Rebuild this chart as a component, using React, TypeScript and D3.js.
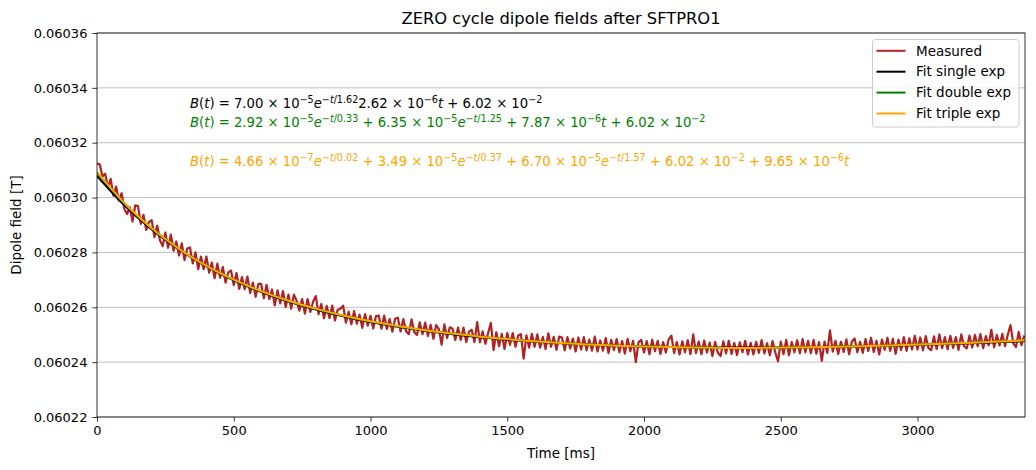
import * as React from 'react';
import * as d3 from 'd3';

// measured field, one sample every 10 ms, in units of 1e-7 T
const measuredE7 = [
  603124, 603121, 603077, 603087, 603035, 603068, 603007, 603040, 602989, 603016,
  602958, 602940, 602964, 602913, 602972, 602969, 602904, 602937, 602882, 602911,
  602918, 602856, 602898, 602845, 602823, 602872, 602817, 602865, 602806, 602840,
  602789, 602833, 602772, 602814, 602818, 602760, 602800, 602739, 602785, 602739,
  602785, 602726, 602763, 602706, 602759, 602708, 602747, 602690, 602727, 602734,
  602681, 602725, 602667, 602710, 602666, 602712, 602652, 602690, 602638, 602685,
  602685, 602633, 602682, 602630, 602665, 602607, 602662, 602614, 602659, 602601,
  602646, 602595, 602646, 602623, 602588, 602630, 602577, 602630, 602583, 602620,
  602641, 602575, 602612, 602560, 602605, 602561, 602606, 602552, 602591, 602595,
  602606, 602544, 602584, 602538, 602586, 602540, 602573, 602525, 602575, 602533,
  602569, 602523, 602568, 602570, 602522, 602570, 602521, 602557, 602511, 602558,
  602562, 602512, 602557, 602513, 602502, 602556, 602510, 602499, 602545, 602502,
  602544, 602495, 602536, 602485, 602535, 602520, 602464, 602538, 602488, 602527,
  602522, 602481, 602526, 602481, 602526, 602473, 602511, 602518, 602473, 602546,
  602473, 602512, 602467, 602506, 602543, 602444, 602509, 602458, 602503, 602448,
  602506, 602463, 602506, 602456, 602497, 602502, 602413, 602498, 602453, 602503,
  602456, 602501, 602453, 602492, 602448, 602505, 602456, 602492, 602445, 602493,
  602490, 602443, 602491, 602450, 602486, 602439, 602490, 602446, 602491, 602443,
  602482, 602442, 602493, 602439, 602479, 602442, 602488, 602433, 602481, 602444,
  602484, 602436, 602477, 602431, 602485, 602440, 602478, 602400, 602473, 602481,
  602435, 602477, 602429, 602482, 602440, 602478, 602430, 602473, 602435, 602483,
  602497, 602433, 602473, 602428, 602476, 602436, 602480, 602429, 602501, 602433,
  602475, 602429, 602479, 602435, 602471, 602422, 602474, 602434, 602422, 602476,
  602432, 602478, 602430, 602470, 602426, 602472, 602436, 602478, 602428, 602470,
  602428, 602474, 602434, 602480, 602432, 602469, 602425, 602477, 602435, 602403,
  602475, 602429, 602481, 602425, 602473, 602436, 602480, 602432, 602484, 602436,
  602478, 602432, 602481, 602431, 602473, 602405, 602475, 602434, 602516, 602438,
  602478, 602430, 602474, 602437, 602483, 602429, 602475, 602486, 602436, 602474,
  602434, 602484, 602441, 602489, 602437, 602478, 602428, 602482, 602445, 602489,
  602441, 602485, 602430, 602482, 602444, 602491, 602441, 602487, 602446, 602496,
  602446, 602490, 602443, 602495, 602451, 602444, 602494, 602448, 602501, 602451,
  602491, 602447, 602496, 602452, 602491, 602445, 602501, 602458, 602450, 602497,
  602453, 602499, 602458, 602502, 602451, 602495, 602461, 602518, 602454, 602499,
  602461, 602503, 602458, 602500, 602535, 602469, 602455, 602510, 602462, 602497,
];
const sampleStepMs = 10;

// fit curves, one point every 100 ms, in units of 1e-7 T
const fitTimes = [
  0, 100, 200, 300, 400, 500, 600, 700, 800, 900, 1000, 1100, 1200, 1300, 1400, 1500, 1600,
  1700, 1800, 1900, 2000, 2100, 2200, 2300, 2400, 2500, 2600, 2700, 2800, 2900, 3000, 3100,
  3200, 3300, 3400,
];
const fitSingleE7 = [
  603079, 602972, 602884, 602811, 602749, 602698, 602656, 602621, 602592, 602567, 602546,
  602529, 602514, 602502, 602491, 602482, 602475, 602469, 602464, 602460, 602457, 602455,
  602454, 602453, 602453, 602454, 602455, 602456, 602458, 602460, 602463, 602466, 602469,
  602473, 602477,
];
const fitDoubleE7 = [
  603090, 602979, 602888, 602813, 602751, 602700, 602658, 602623, 602594, 602569, 602548,
  602531, 602516, 602504, 602493, 602484, 602476, 602470, 602464, 602460, 602457, 602455,
  602453, 602452, 602452, 602453, 602454, 602456, 602458, 602461, 602464, 602467, 602471,
  602475, 602479,
];
const fitTripleE7 = [
  603094, 602980, 602888, 602813, 602751, 602701, 602659, 602624, 602595, 602570, 602549,
  602532, 602516, 602504, 602493, 602484, 602476, 602470, 602464, 602460, 602457, 602455,
  602453, 602452, 602452, 602453, 602454, 602456, 602458, 602461, 602464, 602467, 602471,
  602475, 602480,
];

const yTicks = [0.06022, 0.06024, 0.06026, 0.06028, 0.0603, 0.06032, 0.06034, 0.06036];
const xTicks = [0, 500, 1000, 1500, 2000, 2500, 3000];

const seriesNames = ['Measured', 'Fit single exp', 'Fit double exp', 'Fit triple exp'];
const seriesColors = ['#b22222', '#000000', '#008000', '#ffa500'];

// mathtext pieces: [text, style]  style: n normal, i italic, s superscript, si superscript italic
const singleLabel = [
  ['B', 'i'], ['(', 'n'], ['t', 'i'], [') = 7.00 × 10', 'n'], ['−5', 's'], ['e', 'i'], ['−', 's'], ['t', 'si'], ['/1.62', 's'],
  ['2.62 × 10', 'n'], ['−6', 's'], ['t', 'i'], [' + 6.02 × 10', 'n'], ['−2', 's'],
];
const doubleLabel = [
  ['B', 'i'], ['(', 'n'], ['t', 'i'], [') = 2.92 × 10', 'n'], ['−5', 's'], ['e', 'i'], ['−', 's'], ['t', 'si'], ['/0.33', 's'],
  [' + 6.35 × 10', 'n'], ['−5', 's'], ['e', 'i'], ['−', 's'], ['t', 'si'], ['/1.25', 's'],
  [' + 7.87 × 10', 'n'], ['−6', 's'], ['t', 'i'], [' + 6.02 × 10', 'n'], ['−2', 's'],
];
const tripleLabel = [
  ['B', 'i'], ['(', 'n'], ['t', 'i'], [') = 4.66 × 10', 'n'], ['−7', 's'], ['e', 'i'], ['−', 's'], ['t', 'si'], ['/0.02', 's'],
  [' + 3.49 × 10', 'n'], ['−5', 's'], ['e', 'i'], ['−', 's'], ['t', 'si'], ['/0.37', 's'],
  [' + 6.70 × 10', 'n'], ['−5', 's'], ['e', 'i'], ['−', 's'], ['t', 'si'], ['/1.57', 's'],
  [' + 6.02 × 10', 'n'], ['−2', 's'], [' + 9.65 × 10', 'n'], ['−6', 's'], ['t', 'i'],
];

const W = 1036;
const H = 470;
const margin = { top: 33, right: 11, bottom: 53, left: 97 };
const FONT = '"DejaVu Sans", sans-serif';

function drawMath(g, pieces, x, y, color) {
  const text = g.append('text')
    .attr('x', x)
    .attr('y', y)
    .attr('fill', color)
    .style('font-family', FONT)
    .style('font-size', '13.2px')
    .attr('xml:space', 'preserve');
  let raised = false;
  pieces.forEach(([t, s]) => {
    const sup = s === 's' || s === 'si';
    const span = text.append('tspan').text(t);
    if (sup && !raised) span.attr('dy', -5);
    if (!sup && raised) span.attr('dy', 5);
    raised = sup;
    if (sup) span.style('font-size', '9.6px');
    if (s === 'i' || s === 'si') span.style('font-style', 'italic');
  });
}

export default function App() {
  const ref = React.useRef(null);

  React.useEffect(() => {
    const svg = d3.select(ref.current);
    svg.selectAll('*').remove();

    const x = d3.scaleLinear().domain([0, 3393]).range([margin.left, W - margin.right]);
    const y = d3.scaleLinear().domain([0.06022, 0.06036]).range([H - margin.bottom, margin.top]);

    svg.append('rect').attr('width', W).attr('height', H).attr('fill', 'white');

    svg.append('clipPath').attr('id', 'plot-clip')
      .append('rect')
      .attr('x', margin.left).attr('y', margin.top)
      .attr('width', W - margin.right - margin.left)
      .attr('height', H - margin.bottom - margin.top);

    // horizontal grid
    svg.append('g')
      .selectAll('line')
      .data(yTicks)
      .enter()
      .append('line')
      .attr('x1', margin.left)
      .attr('x2', W - margin.right)
      .attr('y1', (d) => y(d))
      .attr('y2', (d) => y(d))
      .attr('stroke', '#b0b0b0')
      .attr('stroke-width', 0.8);

    const plot = svg.append('g').attr('clip-path', 'url(#plot-clip)');

    const measuredLine = d3.line()
      .x((d, i) => x(i * sampleStepMs))
      .y((d) => y(d * 1e-7));
    plot.append('path')
      .datum(measuredE7)
      .attr('d', measuredLine)
      .attr('fill', 'none')
      .attr('stroke', seriesColors[0])
      .attr('stroke-width', 2.2)
      .attr('stroke-linejoin', 'round');

    const fitLine = d3.line()
      .x((d, i) => x(fitTimes[i]))
      .y((d) => y(d * 1e-7))
      .curve(d3.curveMonotoneX);
    [fitSingleE7, fitDoubleE7, fitTripleE7].forEach((fit, k) => {
      plot.append('path')
        .datum(fit)
        .attr('d', fitLine)
        .attr('fill', 'none')
        .attr('stroke', seriesColors[k + 1])
        .attr('stroke-width', 2);
    });

    // annotations
    const ann = svg.append('g');
    drawMath(ann, singleLabel, 190, 108, '#000000');
    drawMath(ann, doubleLabel, 190, 127, '#008000');
    drawMath(ann, tripleLabel, 190, 166, '#ffa500');

    // axes
    const xAxis = d3.axisBottom(x).tickValues(xTicks).tickSize(4.6).tickPadding(4)
      .tickFormat(d3.format('d'));
    const yAxis = d3.axisLeft(y).tickValues(yTicks).tickSize(4.6).tickPadding(5)
      .tickFormat(d3.format('.5f'));
    const gx = svg.append('g')
      .attr('transform', 'translate(0,' + (H - margin.bottom) + ')')
      .call(xAxis);
    const gy = svg.append('g')
      .attr('transform', 'translate(' + margin.left + ',0)')
      .call(yAxis);
    [gx, gy].forEach((g) => {
      g.select('.domain').remove();
      g.selectAll('.tick line').attr('stroke', '#000').attr('stroke-width', 0.8);
      g.selectAll('.tick text')
        .attr('fill', '#000')
        .style('font-family', FONT)
        .style('font-size', '13px');
    });
    gx.selectAll('.tick text').attr('dy', '0.75em');

    // frame
    svg.append('rect')
      .attr('x', margin.left)
      .attr('y', margin.top)
      .attr('width', W - margin.right - margin.left)
      .attr('height', H - margin.bottom - margin.top)
      .attr('fill', 'none')
      .attr('stroke', '#000')
      .attr('stroke-width', 0.8);

    // labels
    svg.append('text')
      .attr('x', (margin.left + W - margin.right) / 2)
      .attr('y', 24)
      .attr('text-anchor', 'middle')
      .style('font-family', FONT)
      .style('font-size', '16.3px')
      .text('ZERO cycle dipole fields after SFTPRO1');
    svg.append('text')
      .attr('x', (margin.left + W - margin.right) / 2)
      .attr('y', 458)
      .attr('text-anchor', 'middle')
      .style('font-family', FONT)
      .style('font-size', '13.5px')
      .text('Time [ms]');
    svg.append('text')
      .attr('transform', 'translate(21,' + (margin.top + H - margin.bottom) / 2 + ') rotate(-90)')
      .attr('text-anchor', 'middle')
      .style('font-family', FONT)
      .style('font-size', '13.5px')
      .text('Dipole field [T]');

    // legend
    const lg = svg.append('g').attr('transform', 'translate(872.5,39.5)');
    lg.append('rect')
      .attr('width', 146.5)
      .attr('height', 87.5)
      .attr('rx', 3)
      .attr('fill', 'white')
      .attr('fill-opacity', 0.8)
      .attr('stroke', '#cccccc')
      .attr('stroke-width', 1);
    seriesNames.forEach((name, i) => {
      const ly = 11.3 + i * 20.9;
      lg.append('line')
        .attr('x1', 4).attr('x2', 33)
        .attr('y1', ly).attr('y2', ly)
        .attr('stroke', seriesColors[i])
        .attr('stroke-width', 2);
      lg.append('text')
        .attr('x', 43.5)
        .attr('y', ly + 4.7)
        .style('font-family', FONT)
        .style('font-size', '13.5px')
        .text(name);
    });
  }, []);

  return (
    <svg ref={ref} width={W} height={H} style={{ position: 'absolute', left: 0, top: 0 }} />
  );
}
